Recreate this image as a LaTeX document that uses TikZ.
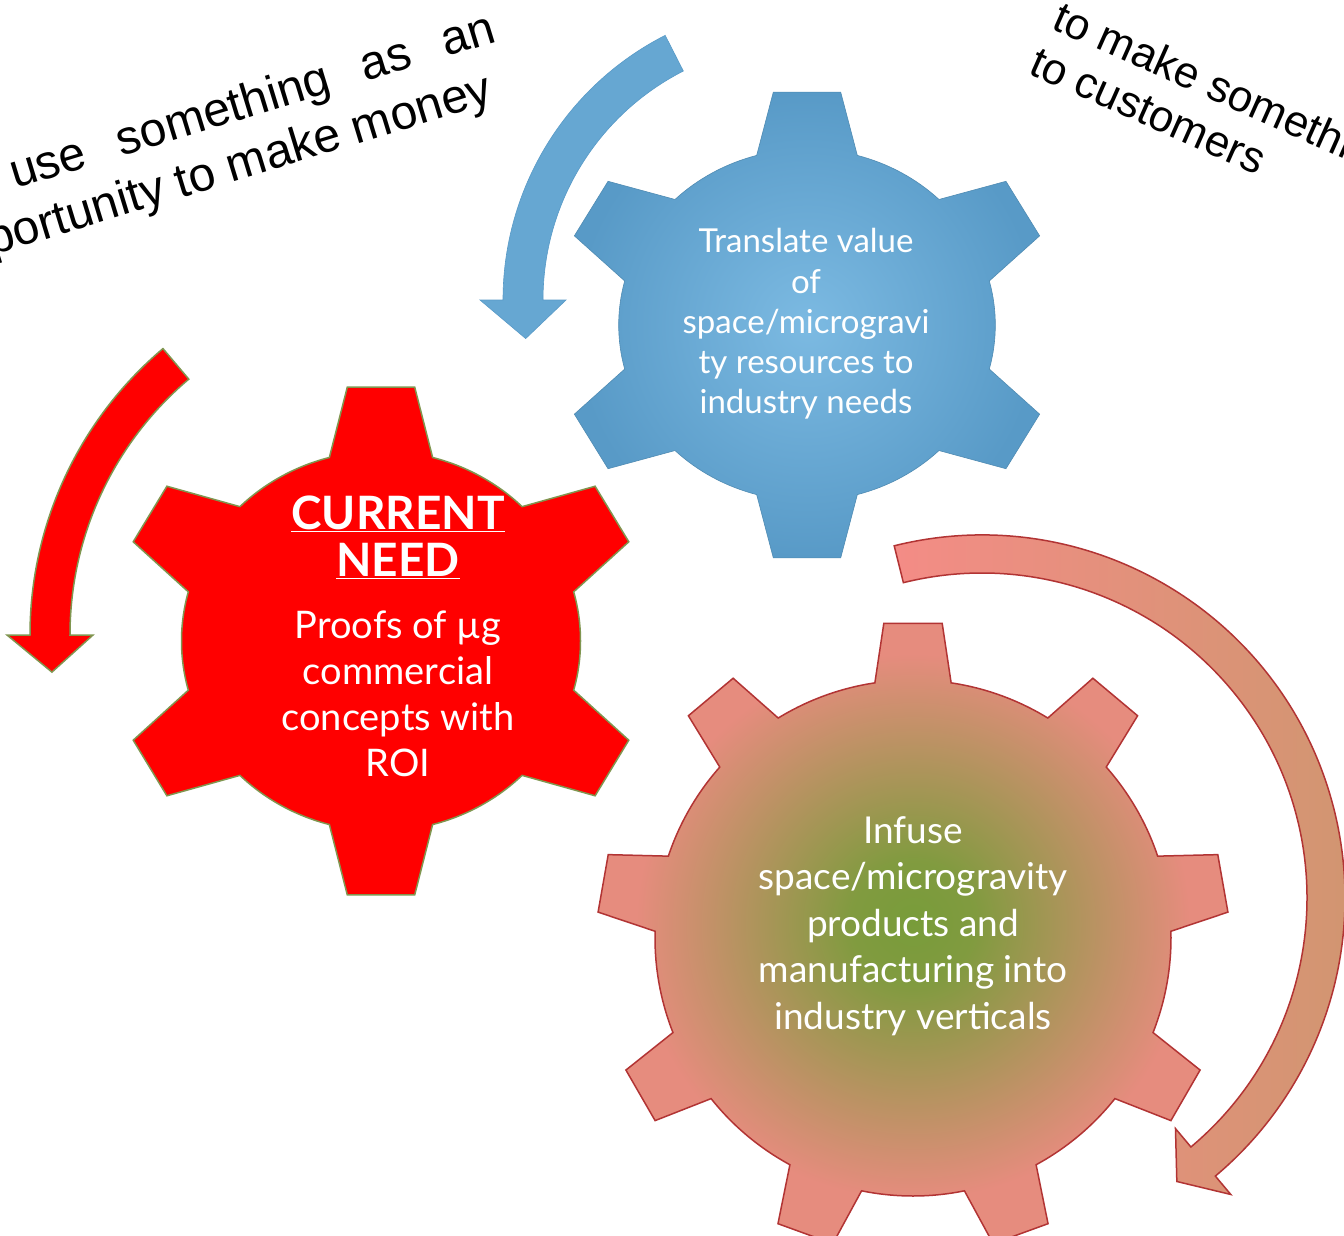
\documentclass[tikz,border=0pt]{standalone}
\usepackage{fontspec}
\usetikzlibrary{calc}
\newfontfamily\gearfont{Lato}
\newfontfamily\notefont{Liberation Sans}
\definecolor{gearred}{RGB}{255,0,0}
\definecolor{redline}{RGB}{128,150,80}
\definecolor{bluelight}{RGB}{124,186,226}
\definecolor{bluedark}{RGB}{88,154,199}
\definecolor{bluearrow}{RGB}{102,167,210}
\definecolor{pinkgear}{RGB}{230,140,126}
\definecolor{greengear}{RGB}{120,156,58}
\definecolor{pinkline}{RGB}{178,52,52}
\definecolor{pinkarrow}{RGB}{244,140,134}
\definecolor{tanarrow}{RGB}{208,150,112}
\pgfdeclareradialshading{blueshade}{\pgfpointorigin}{color(0bp)=(bluelight); color(25bp)=(bluedark); color(50bp)=(bluedark)}
\pgfdeclareradialshading{infuseshade}{\pgfpoint{0bp}{1bp}}{color(0bp)=(greengear); color(5bp)=(greengear!92!pinkgear); color(22bp)=(pinkgear); color(50bp)=(pinkgear)}
% teeth, inner radius, outer radius, base half angle, tip half angle, first tooth angle
\newcommand{\gearpath}[6]{%
  ({#6-#4}:#2) \foreach \k in {1,...,#1} {
    -- ({#6+(\k-1)*360/#1-#5}:#3) -- ({#6+(\k-1)*360/#1+#5}:#3)
    -- ({#6+(\k-1)*360/#1+#4}:#2)
    arc[start angle={#6+(\k-1)*360/#1+#4}, end angle={#6+\k*360/#1-#4}, radius=#2]
  } -- cycle}
% radius, half width, head half width, tail angle, head base angle, tip angle
\newcommand{\bentarrow}[6]{%
  ({#4}:{#1+#2}) arc[start angle=#4, end angle=#5, radius={#1+#2}]
  -- ({#5}:{#1+#3}) -- ({#6}:#1) -- ({#5}:{#1-#3}) -- ({#5}:{#1-#2})
  arc[start angle=#5, end angle=#4, radius={#1-#2}] -- cycle}
\tikzset{%
    geartext/.style={%
        text=white, align=center, inner sep=0pt
    },
    note/.style={%
        font=\notefont\fontsize{48}{56}\selectfont, inner sep=0pt, text=black
    },
    smallnote/.style={%
        note, font=\notefont\fontsize{44}{52}\selectfont
    },
    redpart/.style={%
        fill=gearred, draw=redline, line width=1.5pt
    },
    bluepart/.style={%
        shade, shading=blueshade, draw=bluedark!90!black, line width=0.6pt
    },
    pinkpart/.style={%
        draw=pinkline, line width=1.5pt
    },
}
\begin{document}
\begin{tikzpicture}[x=1pt, y=-1pt]
    \clip (0,0) rectangle (1344,1235);
    \fill[white] (0,0) rectangle (1344,1235);

    % arrows
    \begin{scope}[shift={(800,300)}]
      \path[fill=bluearrow, draw=bluedark, line width=0.6pt] \bentarrow{277}{20}{43}{243}{180}{172};
    \end{scope}
    \begin{scope}[shift={(405,635)}]
      \path[redpart] \bentarrow{355}{20}{43}{229.8}{180}{174};
    \end{scope}
    \begin{scope}[shift={(982,898)}]
      \path[pinkpart, left color=pinkarrow, right color=tanarrow] \bentarrow{344}{19}{43}{-104}{50}{55.5};
    \end{scope}

    % gears
    \begin{scope}[shift={(807,325)}, xscale=1.07]
      \path[bluepart] \gearpath{6}{176}{235}{15.5}{7.7}{90};
    \end{scope}
    \begin{scope}[shift={(381,641)}, xscale=1.05]
      \path[redpart] \gearpath{6}{190}{256}{15}{7.2}{90};
    \end{scope}
    \begin{scope}[shift={(913,938)}]
      \path[pinkpart, shade, shading=infuseshade] \gearpath{9}{258}{316}{8.5}{5.3}{-90};
    \end{scope}

    % gear texts
    \node[geartext, font=\gearfont\fontsize{33}{40.3}\selectfont] (translate) at (806,324)
      {Translate value\\of\\space/microgravi\\ty resources to\\industry needs};
    \node[geartext, font=\gearfont\bfseries\fontsize{46}{47}\selectfont] (current) at (398,537)
      {\underline{CURRENT}\\\underline{NEED}};
    \node[geartext, font=\gearfont\fontsize{38}{46}\selectfont] (proofs) at (398,694)
      {Proofs of µg\\commercial\\concepts with\\ROI};
    \node[geartext, font=\gearfont\fontsize{37}{46.5}\selectfont] (infuse) at (913,926)
      {Infuse\\space/microgravity\\products and\\manufacturing into\\industry verticals};

    % notes
    \node[note, rotate=17, anchor=base west] (useline) at (15,189) {\makebox[505pt][s]{use something as an}};
    \node[note, rotate=17, anchor=base east] (moneyline) at (495,102) {portunity to make money};
    \node[smallnote, rotate=-24, anchor=base west] (makeline) at (1050,28) {to make something};
    \node[smallnote, rotate=-24, anchor=base west] (customerline) at (1027,73) {to customers};
\end{tikzpicture}
\end{document}
